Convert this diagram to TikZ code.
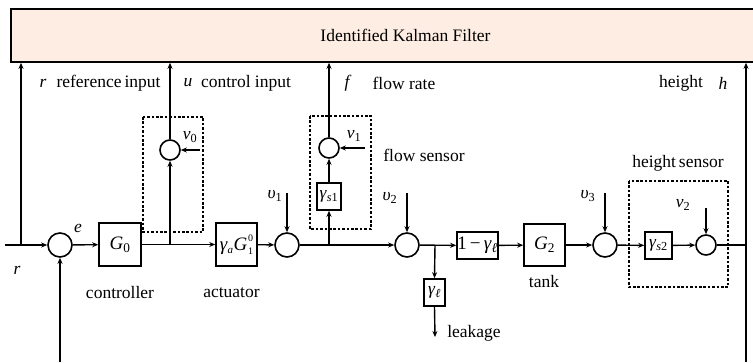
\documentclass[tikz,border=0pt]{standalone}
\usepackage{fontspec}
\setmainfont{Liberation Serif}
\usetikzlibrary{arrows.meta}
\newcommand\lbl{\fontsize{17.5}{20}\selectfont}
\newcommand\mfn{\fontsize{19}{22}\selectfont}
\newcommand\iv[1]{\textit{#1}}
\begin{document}
\begin{tikzpicture}[x=1pt,y=-1pt,
  blk/.style={draw, line width=1.6pt, inner sep=0pt, font=\mfn},
  sblk/.style={draw, line width=1.6pt, inner sep=0pt, font=\lbl, minimum height=27pt},
  sumc/.style={circle, draw, line width=1.6pt, minimum size=24pt, inner sep=0pt},
  ssumc/.style={sumc, minimum size=20pt},
  arr/.style={line width=1.4pt, -{Stealth[length=6pt,width=5pt]}},
  ln/.style={line width=1.4pt},
  dbox/.style={draw, line width=1.4pt, dash pattern=on 2.6pt off 1.8pt},
  lab/.style={inner sep=0pt, font=\lbl},
  kfbox/.style={draw, line width=1.6pt, fill=kfcol, inner sep=0pt}]
\definecolor{kfcol}{RGB}{253,237,226}
\useasboundingbox (0,0) rectangle (753,362);
% Kalman filter box
\node[kfbox, minimum width=744pt, minimum height=53pt] (kf) at (383,35.5) {};
\node[lab] (kft) at (405.5,35.5) {Identified Kalman Filter};
% dashed sensor boxes
\draw[dbox] (143,117) rectangle (203,232);
\draw[dbox] (310,116) rectangle (371,229);
\draw[dbox] (629,181) rectangle (728,287);
% summers
\node[sumc] (s1) at (60,245) {};
\node[ssumc] (sv0) at (170,150) {};
\node[sumc] (s2) at (287,245) {};
\node[ssumc] (sf) at (329,148) {};
\node[sumc] (s3) at (407,245) {};
\node[sumc] (s4) at (605,245) {};
\node[ssumc] (s5) at (706,245) {};
% blocks
\node[blk, minimum width=42pt, minimum height=43pt] (g0) at (120,244.5) {\iv{G}\textsubscript{0}};
\node[blk, minimum width=41pt, minimum height=43pt] (act) at (236.5,244.5) {\iv{γ}\raisebox{-3pt}{\fontsize{11}{11}\selectfont\iv{a}}\kern0.5pt\iv{G}\kern0.8pt\raisebox{-4pt}{\fontsize{10}{10}\selectfont\shortstack[l]{0\\[3pt]1}}};
\node[sblk, minimum width=24pt] (gs1) at (329,196.5) {\iv{γ}\textsubscript{\iv{s}1}};
\node[sblk, minimum width=21pt] (gl) at (434.5,292.5) {\iv{γ}\textsubscript{\iv{ℓ}}};
\node[sblk, minimum width=41pt, font=\mfn] (oneg) at (477.5,245.5) {1\,−\,\iv{γ}\textsubscript{\iv{ℓ}}};
\node[blk, minimum width=41pt, minimum height=42pt] (g2) at (544.5,245) {\iv{G}\textsubscript{2}};
\node[sblk, minimum width=27pt] (gs2) at (658.5,245.5) {\iv{γ}\textsubscript{\iv{s}2}};
% coordinates
\coordinate (rin) at (5,245);
\coordinate (rbr) at (21,245);
\coordinate (fb) at (60,362);
\coordinate (ubr) at (170,245);
\coordinate (v0in) at (200,150);
\coordinate (u1in) at (287,193);
\coordinate (fbr) at (329,245);
\coordinate (v1in) at (365,148);
\coordinate (u2in) at (407,193);
\coordinate (lbr) at (435,245);
\coordinate (lout) at (435,337);
\coordinate (u3in) at (605,193);
\coordinate (v2in) at (706,208);
\coordinate (hb) at (746,362);
% connectors
\draw[arr] (rin) -- (s1);
\draw[arr] (rbr) -- (rbr |- kf.south);
\draw[arr] (fb) -- (s1.south);
\draw[arr] (s1) -- (g0);
\draw[arr] (g0) -- (act);
\draw[arr] (ubr) -- (sv0.south);
\draw[arr] (sv0.north) -- (sv0 |- kf.south);
\draw[arr] (v0in) -- (sv0.east);
\draw[arr] (act) -- (s2);
\draw[arr] (u1in) -- (s2.north);
\draw[arr] (s2) -- (s3);
\draw[arr] (fbr) -- (gs1.south);
\draw[arr] (gs1.north) -- (sf.south);
\draw[arr] (sf.north) -- (sf |- kf.south);
\draw[arr] (v1in) -- (sf.east);
\draw[arr] (u2in) -- (s3.north);
\draw[arr] (s3) -- (oneg);
\draw[arr] (lbr) -- (gl.north);
\draw[arr] (gl.south) -- (lout);
\draw[arr] (oneg) -- (g2);
\draw[arr] (g2) -- (s4);
\draw[arr] (u3in) -- (s4.north);
\draw[arr] (s4) -- (gs2);
\draw[arr] (gs2) -- (s5);
\draw[arr] (v2in) -- (s5.north);
\draw[ln] (s5.east) -- (s5 -| hb);
\draw[arr] (hb) -- (hb |- kf.south);
% labels
\node[lab] (lr) at (43,83) {\iv{r}};
\node[lab] (lri) at (108.5,83) {reference\,input};
\node[lab] (lu) at (188,83) {\iv{u}};
\node[lab] (lui) at (246,83) {control input};
\node[lab] (lf) at (348,83) {\iv{f}};
\node[lab] (lfr) at (404,83) {flow rate};
\node[lab] (lh) at (681,83) {height};
\node[lab] (lhh) at (723,83) {\iv{h}};
\node[lab] (lfs) at (424,155) {flow sensor};
\node[lab] (lhs) at (678,163) {height\,sensor};
\node[lab] (lc) at (120,293) {controller};
\node[lab] (la) at (231.5,293) {actuator};
\node[lab] (lt) at (544,282) {tank};
\node[lab] (ll) at (474,333) {leakage};
\node[lab] (lr2) at (17,270) {\iv{r}};
\node[lab] (le) at (78,228) {\iv{e}};
\node[lab] (lv0) at (190,137) {\iv{v}\textsubscript{0}};
\node[lab] (lv1) at (354,136) {\iv{v}\textsubscript{1}};
\node[lab] (lu1) at (275,196) {\iv{υ}\textsubscript{1}};
\node[lab] (lu2) at (390,198) {\iv{υ}\textsubscript{2}};
\node[lab] (lu3) at (588,196) {\iv{υ}\textsubscript{3}};
\node[lab] (lv2) at (683,205) {\iv{v}\textsubscript{2}};
\end{tikzpicture}
\end{document}
